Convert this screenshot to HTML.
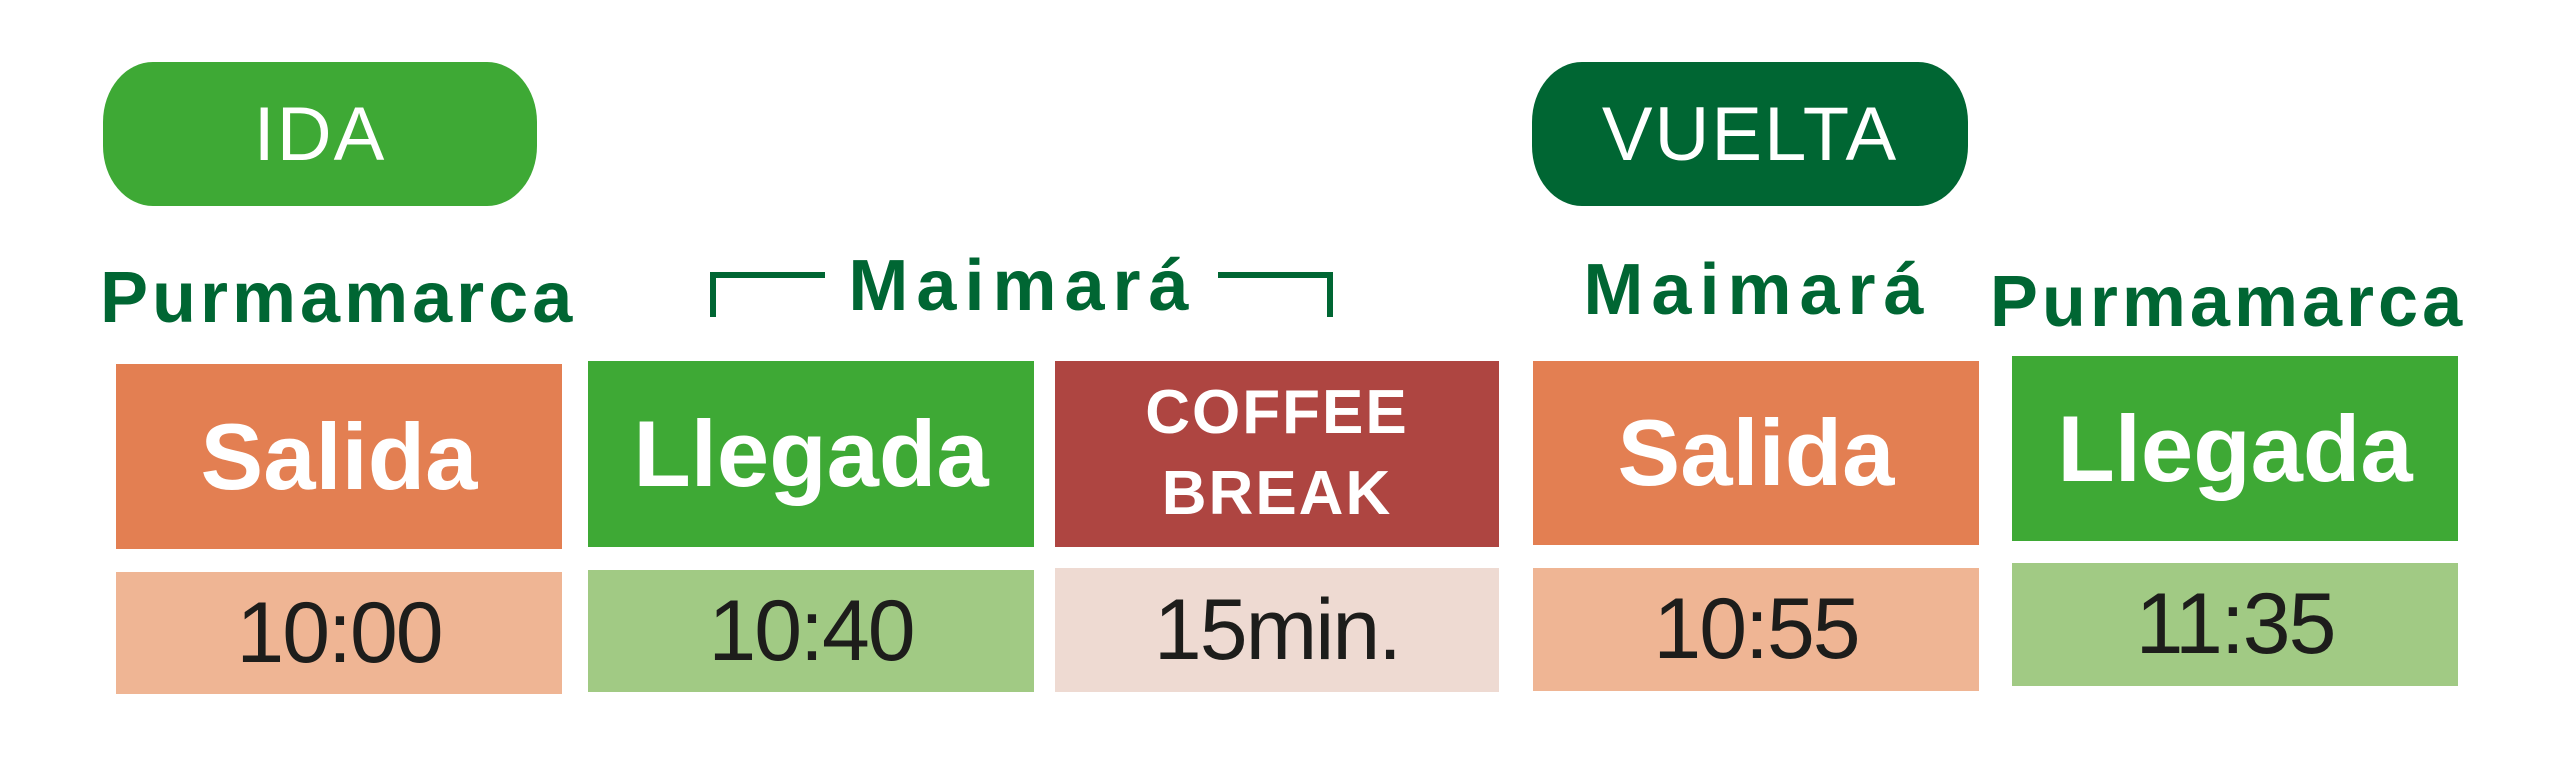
<!DOCTYPE html>
<html><head><meta charset="utf-8"><style>
body{margin:0;width:2560px;height:758px;background:#fff;position:relative;overflow:hidden;font-family:"Liberation Sans",sans-serif}
.a{position:absolute;display:flex;align-items:center;justify-content:center;box-sizing:border-box}
.pill{border-radius:50px/60px;color:#fff;font-size:76px;letter-spacing:2px}
.h{font-weight:bold;font-size:94px;color:#fff}
.t{font-size:86px;color:#1d1d1b;letter-spacing:-2px}
.g{position:absolute;color:#006633;font-weight:bold;font-size:72px;line-height:1;letter-spacing:4px;white-space:nowrap}
.m{letter-spacing:8px}
.ln{position:absolute;background:#006633}
</style></head><body>
<div class="a pill" style="left:103px;top:62px;width:434px;height:144px;background:#3EA935">IDA</div>
<div class="a pill" style="left:1532px;top:62px;width:436px;height:144px;background:#006633">VUELTA</div>

<div class="g" style="left:100px;top:262px;width:475px;text-align:center">Purmamarca</div>
<div class="ln" style="left:710px;top:272px;width:115px;height:6px"></div>
<div class="ln" style="left:710px;top:272px;width:6px;height:45px"></div>
<div class="g m" style="left:835px;top:250px;width:375px;text-align:center">Maimará</div>
<div class="ln" style="left:1218px;top:272px;width:115px;height:6px"></div>
<div class="ln" style="left:1327px;top:272px;width:6px;height:45px"></div>
<div class="g m" style="left:1570px;top:254px;width:375px;text-align:center">Maimará</div>
<div class="g" style="left:1988px;top:266px;width:480px;text-align:center">Purmamarca</div>

<div class="a h" style="left:116px;top:364px;width:446px;height:185px;background:#E37F52">Salida</div>
<div class="a h" style="left:588px;top:361px;width:446px;height:186px;background:#3EA935">Llegada</div>
<div class="a" style="left:1055px;top:361px;width:444px;height:186px;background:#AE4541;color:#fff;font-weight:bold;font-size:62px;line-height:1.3;text-align:center;letter-spacing:2px">COFFEE<br>BREAK</div>
<div class="a h" style="left:1533px;top:361px;width:446px;height:184px;background:#E37F52">Salida</div>
<div class="a h" style="left:2012px;top:356px;width:446px;height:185px;background:#3EA935">Llegada</div>

<div class="a t" style="left:116px;top:572px;width:446px;height:122px;background:#EFB594">10:00</div>
<div class="a t" style="left:588px;top:570px;width:446px;height:122px;background:#A1CA84">10:40</div>
<div class="a t" style="left:1055px;top:568px;width:444px;height:124px;background:#EEDAD2">15min.</div>
<div class="a t" style="left:1533px;top:568px;width:446px;height:123px;background:#EFB594">10:55</div>
<div class="a t" style="left:2012px;top:563px;width:446px;height:123px;background:#A1CA84">11:35</div>
</body></html>
